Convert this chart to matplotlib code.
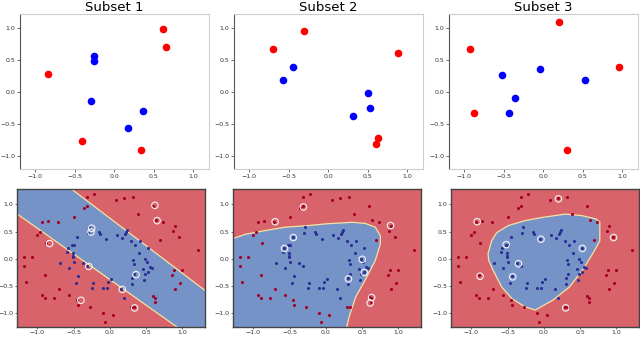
import matplotlib
matplotlib.use("Agg")
import matplotlib.pyplot as plt
from matplotlib.patches import Polygon

# full dataset
red_x = [-0.31, -0.22, 0.08, 0.20, 0.32, -0.36, -0.31, -0.50, -0.94, -0.85, -0.72, -1.01, -0.97,
         -0.88, -1.19, -1.08, -1.18, -1.16, -0.89, -0.70, -0.93, -0.90, -0.77, -0.56, -0.45, -0.44,
         -0.28, -0.09, -0.07, 0.04, 0.29, 0.33, 0.60, 0.64, 0.39, 0.73, 0.89, 0.87, 0.95, 0.69,
         1.22, 0.99, 0.88, 0.86, 0.96, 0.90, 0.59, 0.62, 0.62]
red_y = [1.14, 1.19, 1.07, 1.11, 1.13, 0.93, 0.96, 0.77, 0.68, 0.70, 0.68, 0.44, 0.49,
         0.29, 0.03, 0.03, -0.13, -0.42, -0.30, -0.55, -0.67, -0.71, -0.72, -0.67, -0.75, -0.84,
         -0.89, -0.99, -1.16, -1.03, -0.88, -0.88, 0.97, 0.71, 0.82, 0.68, 0.61, 0.51, 0.40, 0.34,
         0.16, -0.20, -0.21, -0.30, -0.45, -0.56, -0.68, -0.71, -0.79]
blue_x = [-0.29, -0.30, -0.15, -0.14, -0.46, -0.49, -0.52, -0.58, -0.59, -0.51, -0.51, -0.51, -0.50,
          -0.69, -0.56, -0.37, -0.32, -0.44, -0.47, -0.23, -0.25, -0.10, -0.04, -0.03, 0.01, 0.15,
          0.19, -0.05, 0.10, 0.16, 0.21, 0.22, 0.24, 0.29, 0.34, 0.41, 0.52, 0.40, 0.32, 0.33,
          0.49, 0.51, 0.55, 0.58, 0.46, 0.52, 0.49, 0.33, 0.31, 0.47, 0.31]
blue_y = [0.58, 0.48, 0.49, 0.45, 0.40, 0.26, 0.26, 0.20, 0.13, 0.10, 0.06, 0.03, -0.05,
          -0.08, -0.16, -0.08, -0.13, -0.32, -0.44, -0.45, -0.54, -0.53, -0.53, -0.43, -0.37, -0.55,
          -0.72, 0.36, 0.43, 0.38, 0.45, 0.50, 0.53, 0.32, 0.25, 0.32, 0.20, 0.10, -0.02, -0.10,
          -0.01, -0.05, -0.15, -0.16, -0.18, -0.25, -0.27, -0.27, -0.35, -0.38, -0.47]

# the three training subsets (5 red + 5 blue each)
sub_red_x = [[0.62, 0.65, -0.83, -0.40, 0.34],
             [-0.70, -0.31, 0.89, 0.63, 0.61],
             [0.20, -0.92, -0.88, 0.96, 0.30]]
sub_red_y = [[0.98, 0.70, 0.28, -0.76, -0.90],
             [0.68, 0.95, 0.61, -0.71, -0.81],
             [1.10, 0.68, -0.32, 0.39, -0.90]]
sub_blue_x = [[-0.25, -0.26, -0.29, 0.36, 0.17],
              [-0.45, -0.57, 0.50, 0.53, 0.31],
              [-0.52, -0.04, 0.53, -0.35, -0.43]]
sub_blue_y = [[0.56, 0.49, -0.14, -0.29, -0.56],
              [0.39, 0.19, -0.01, -0.25, -0.37],
              [0.26, 0.36, 0.19, -0.09, -0.33]]

# blue decision region of each classifier (outline)
region_x = [
    [-1.35, -1.35, -0.60, 1.35, 1.35, 1.03],
    [-1.35, -1.11, -0.83, -0.56, -0.24, -0.01, 0.36, 0.54, 0.68, 0.75, 0.75, 0.68, 0.54, 0.41,
     0.32, 0.27, -1.35],
    [-0.77, -0.72, -0.65, -0.49, -0.26, -0.02, 0.30, 0.53, 0.72, 0.77, 0.77, 0.67, 0.53, 0.35,
     0.12, -0.12, -0.26, -0.44, -0.58, -0.70, -0.76],
]
region_y = [
    [0.89, 1.35, 1.35, -0.62, -1.35, -1.35],
    [0.34, 0.45, 0.52, 0.58, 0.61, 0.64, 0.67, 0.65, 0.58, 0.42, 0.27, -0.03, -0.39, -0.70,
     -1.06, -1.35, -1.35],
    [0.09, 0.33, 0.48, 0.61, 0.70, 0.76, 0.82, 0.79, 0.73, 0.67, 0.33, 0.09, -0.21, -0.52,
     -0.76, -0.94, -0.88, -0.73, -0.52, -0.21, -0.03],
]

titles = ["Subset 1", "Subset 2", "Subset 3"]
ticks = [-1.0, -0.5, 0.0, 0.5, 1.0]

W, H = 640, 337
fig = plt.figure(figsize=(6.4, 3.37), dpi=100)

top_left = [20, 234, 449]
bot_left = [17, 233, 451]

for i in range(3):
    # top row: the subset alone
    ax = fig.add_axes([top_left[i] / W, 1 - 169 / H, 189 / W, 155 / H])
    ax.scatter(sub_red_x[i], sub_red_y[i], s=20, color="#ff0000", zorder=3)
    ax.scatter(sub_blue_x[i], sub_blue_y[i], s=20, color="#0000ff", zorder=3)
    ax.set_xlim(-1.19, 1.2)
    ax.set_ylim(-1.2, 1.22)
    ax.set_xticks(ticks)
    ax.set_yticks(ticks)
    ax.tick_params(labelsize=4.5, length=2, width=0.5, pad=1.5, colors="#333333")
    for s in ax.spines.values():
        s.set_color("#cccccc")
        s.set_linewidth(0.8)
    ax.spines["left"].set_color("#555555")
    ax.set_title(titles[i], fontsize=9.5, pad=1)

    # bottom row: decision regions on the full dataset
    ax = fig.add_axes([bot_left[i] / W, 1 - 327 / H, 188 / W, 138 / H])
    ax.set_facecolor("#d9636a")
    poly = Polygon(list(zip(region_x[i], region_y[i])), closed=True,
                   facecolor="#7693c8", edgecolor="#f3e3a2", linewidth=0.9, zorder=1)
    ax.add_patch(poly)
    ax.scatter(red_x, red_y, s=5, color="#a50026", zorder=3, linewidths=0)
    ax.scatter(blue_x, blue_y, s=5, color="#2b2f96", zorder=3, linewidths=0)
    ax.scatter(sub_red_x[i] + sub_blue_x[i], sub_red_y[i] + sub_blue_y[i], s=22,
               facecolors="none", edgecolors="#f2f2f2", linewidths=0.8, zorder=4)
    ax.set_xlim(-1.28, 1.31)
    ax.set_ylim(-1.25, 1.28)
    ax.set_xticks(ticks)
    ax.set_yticks(ticks)
    ax.tick_params(labelsize=4.5, length=1.5, width=0.5, pad=1, colors="#333333")
    for s in ax.spines.values():
        s.set_color("#444444")
        s.set_linewidth(1.0)

fig.savefig("out.png", dpi=100)
